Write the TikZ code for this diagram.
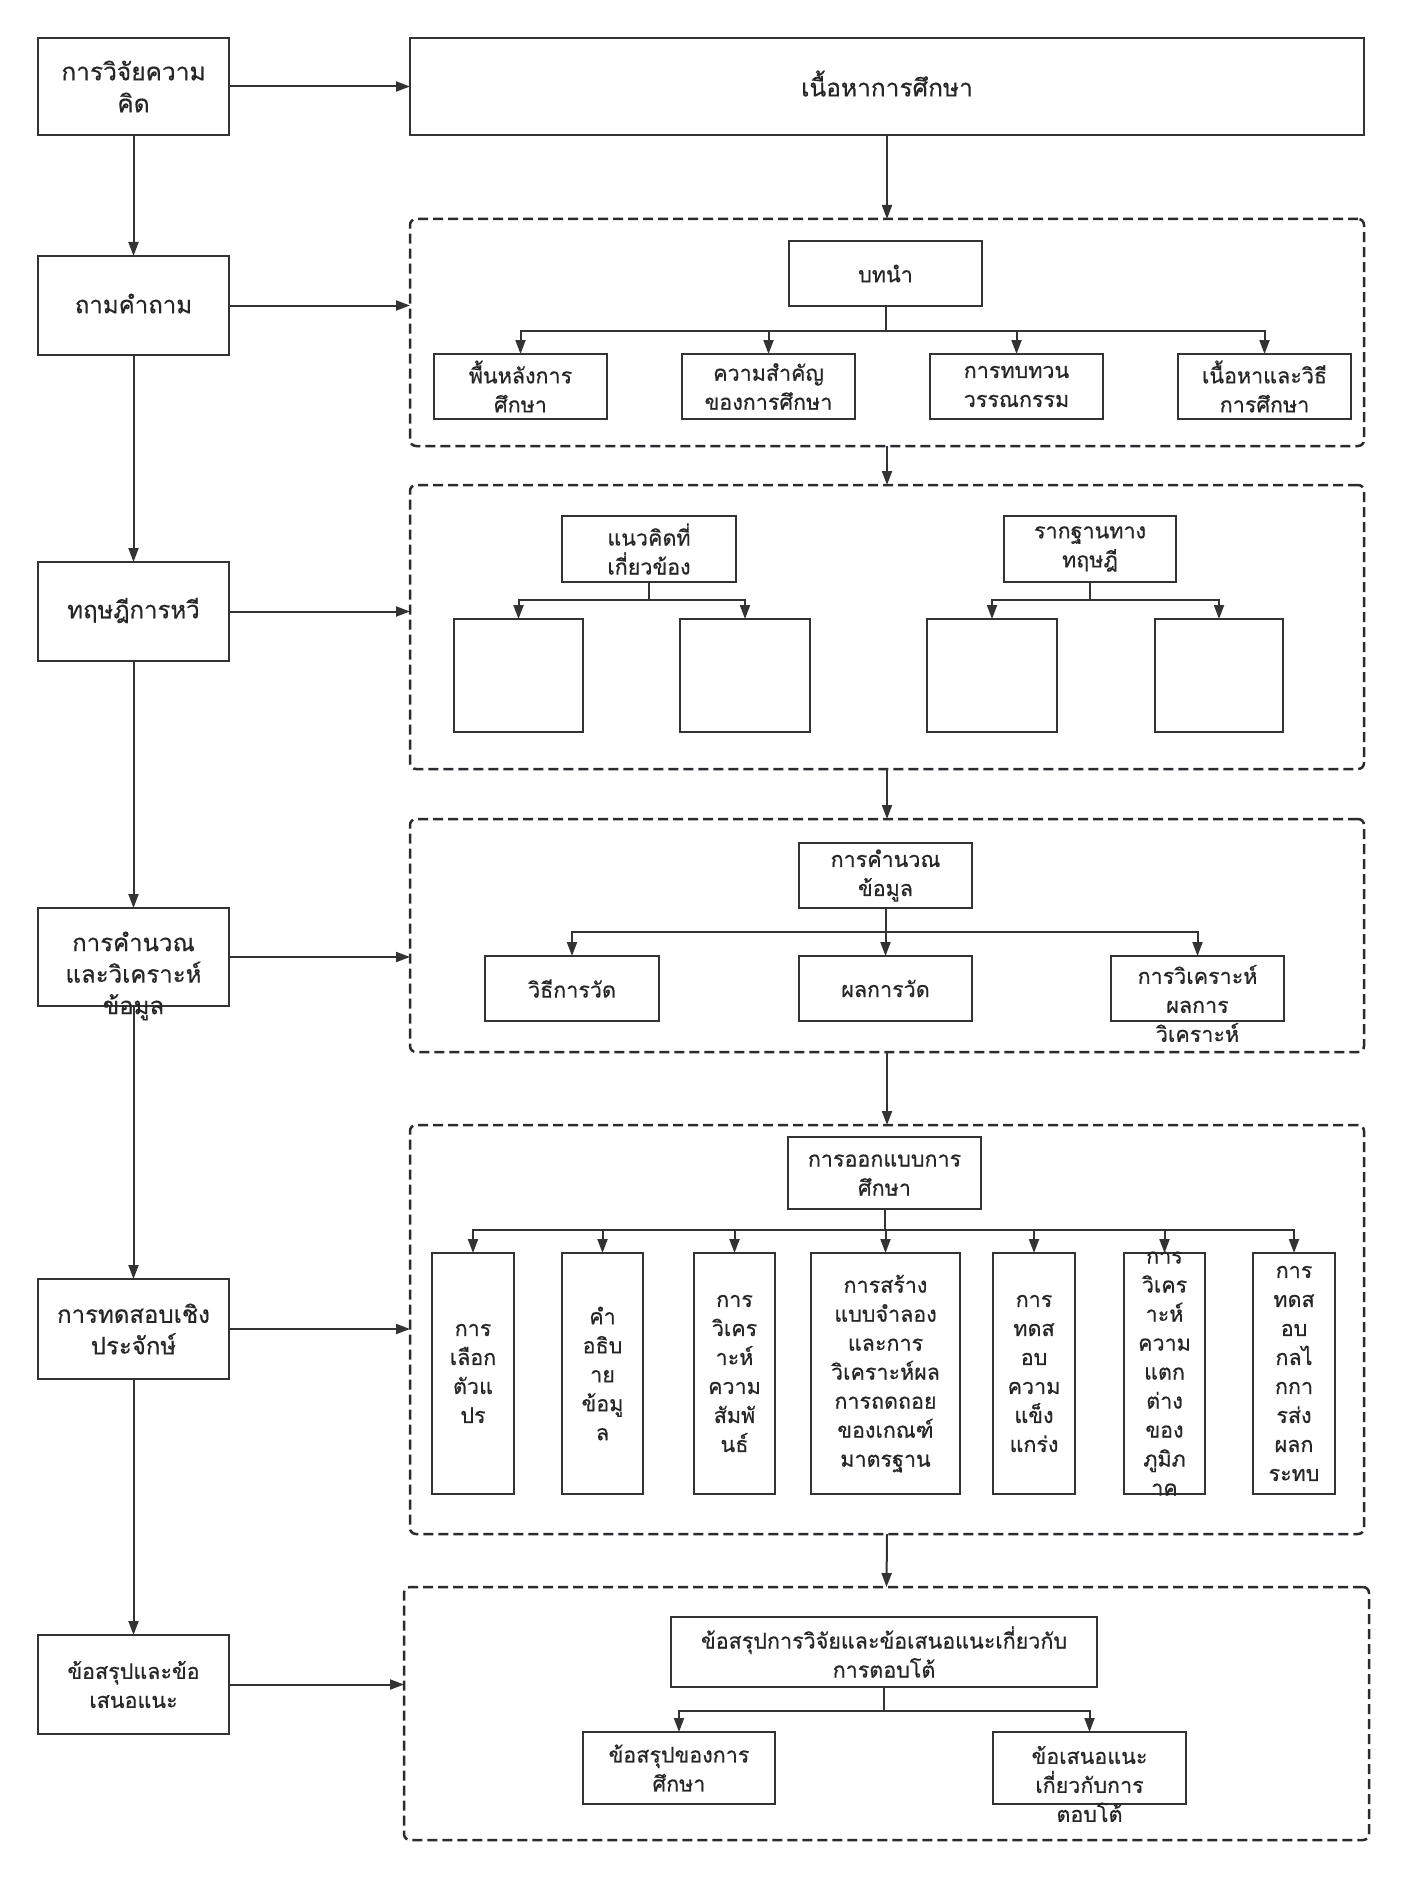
\documentclass[tikz,border=0pt]{standalone}
\usepackage{fontspec}
\newfontfamily\thaifont[Script=Thai,FakeBold=0.5]{Loma}
\usetikzlibrary{arrows.meta}
\definecolor{lncol}{RGB}{51,51,51}
\definecolor{dshcol}{RGB}{40,44,48}
\definecolor{txtcol}{RGB}{38,38,38}
\newcommand\mkbox[8][txt]{%
  \node[box,minimum width={(#5-#3)*1pt},minimum height={(#6-#4)*1pt}] (#2) at ({(#3+#5)/2},{(#4+#6)/2}) {};
  \node[#1] (#2t) at ({(#3+#5)/2},{(#4+#6)/2+#7}) {#8};}
\newcommand\mkgrp[5]{%
  \node[grp,minimum width={(#4-#2)*1pt},minimum height={(#5-#3)*1pt}] (#1) at ({(#2+#4)/2},{(#3+#5)/2}) {};}
\begin{document}
\begin{tikzpicture}[x=1pt,y=-1pt,
  box/.style={draw=lncol,line width=2.3pt,inner sep=0pt,outer sep=0pt},
  txt/.style={font=\thaifont\fontsize{21.5}{29}\selectfont,align=center,text=txtcol,inner sep=0pt},
  ltxt/.style={txt,font=\thaifont\fontsize{24}{31.5}\selectfont},
  btxt/.style={txt,font=\thaifont\fontsize{24.5}{32}\selectfont},
  grp/.style={draw=dshcol,line width=2.5pt,dash pattern=on 10pt off 5pt,rounded corners=6pt,inner sep=0pt,outer sep=0pt},
  arr/.style={draw=lncol,line width=2pt,-{Triangle[length=14pt,width=10pt]}},
  conn/.style={draw=lncol,line width=2pt}]
\useasboundingbox (0,0) rectangle (1404,1878);
\fill[white] (0,0) rectangle (1404,1878);

% left column
\mkbox[btxt]{b1}{38}{38}{229}{135}{0}{การวิจัยความ\\คิด}
\mkbox[ltxt]{b2}{38}{256}{229}{355}{-2}{ถามคำถาม}
\mkbox[ltxt]{b3}{38}{562}{229}{661}{-1}{ทฤษฎีการหวี}
\mkbox[ltxt]{b4}{38}{908}{229}{1006}{19}{การคำนวณ\\และวิเคราะห์\\ข้อมูล}
\mkbox[ltxt]{b5}{38}{1279}{229}{1379}{0}{การทดสอบเชิง\\ประจักษ์}
\mkbox{b6}{38}{1635}{229}{1734}{0}{ข้อสรุปและข้อ\\เสนอแนะ}

% main column
\mkbox[btxt]{top}{410}{38}{1364}{135}{-3}{เนื้อหาการศึกษา}
\mkgrp{g1}{410}{219}{1364}{446}
\mkgrp{g2}{410}{485}{1364}{769}
\mkgrp{g3}{410}{819}{1364}{1052}
\mkgrp{g4}{410}{1125}{1364}{1534}
\mkgrp{g5}{404}{1587}{1369}{1840}

% group 1
\mkbox{intro}{789}{241}{982}{306}{0}{บทนำ}
\mkbox{s1a}{434}{354}{607}{419}{0}{พื้นหลังการ\\ศึกษา}
\mkbox{s1b}{682}{354}{855}{419}{0}{ความสำคัญ\\ของการศึกษา}
\mkbox{s1c}{930}{354}{1103}{419}{0}{การทบทวน\\วรรณกรรม}
\mkbox{s1d}{1178}{354}{1351}{419}{0}{เนื้อหาและวิธี\\การศึกษา}

% group 2
\mkbox{h2a}{562}{516}{736}{582}{0}{แนวคิดที่\\เกี่ยวข้อง}
\mkbox{h2b}{1004}{516}{1176}{582}{0}{รากฐานทาง\\ทฤษฎี}
\mkbox{e1}{454}{619}{583}{732}{0}{}
\mkbox{e2}{680}{619}{810}{732}{0}{}
\mkbox{e3}{927}{619}{1057}{732}{0}{}
\mkbox{e4}{1155}{619}{1283}{732}{0}{}

% group 3
\mkbox{calc}{799}{843}{972}{908}{0}{การคำนวณ\\ข้อมูล}
\mkbox{s3a}{485}{956}{659}{1021}{0}{วิธีการวัด}
\mkbox{s3b}{799}{956}{972}{1021}{0}{ผลการวัด}
\mkbox{s3c}{1111}{956}{1284}{1021}{15}{การวิเคราะห์\\ผลการ\\วิเคราะห์}

% group 4
\mkbox{dsg}{788}{1137}{981}{1209}{2}{การออกแบบการ\\ศึกษา}
\mkbox{c1}{432}{1253}{514}{1494}{0}{การ\\เลือก\\ตัวแ\\ปร}
\mkbox{c2}{562}{1253}{643}{1494}{0}{คำ\\อธิบ\\าย\\ข้อมู\\ล}
\mkbox{c3}{694}{1253}{775}{1494}{0}{การ\\วิเคร\\าะห์\\ความ\\สัมพั\\นธ์}
\mkbox{c4}{811}{1253}{960}{1494}{0}{การสร้าง\\แบบจำลอง\\และการ\\วิเคราะห์ผล\\การถดถอย\\ของเกณฑ์\\มาตรฐาน}
\mkbox{c5}{993}{1253}{1075}{1494}{0}{การ\\ทดส\\อบ\\ความ\\แข็ง\\แกร่ง}
\mkbox{c6}{1124}{1253}{1205}{1494}{0}{การ\\วิเคร\\าะห์\\ความ\\แตก\\ต่าง\\ของ\\ภูมิภ\\าค}
\mkbox{c7}{1253}{1253}{1335}{1494}{0}{การ\\ทดส\\อบ\\กลไ\\กกา\\รส่ง\\ผลก\\ระทบ}

% group 5
\mkbox{concl}{671}{1617}{1097}{1687}{0}{ข้อสรุปการวิจัยและข้อเสนอแนะเกี่ยวกับ\\การตอบโต้}
\mkbox{s5a}{583}{1732}{775}{1804}{0}{ข้อสรุปของการ\\ศึกษา}
\mkbox{s5b}{993}{1732}{1186}{1804}{16}{ข้อเสนอแนะ\\เกี่ยวกับการ\\ตอบโต้}

% left column arrows
\draw[arr] (b1) -- (b2);
\draw[arr] (b2) -- (b3);
\draw[arr] (b3) -- (b4);
\draw[arr] (b4) -- (b5);
\draw[arr] (b5) -- (b6);
\draw[arr] (b1.east) -- (b1.east -| top.west);
\draw[arr] (b2.east) -- (b2.east -| g1.west);
\draw[arr] (b3.east) -- (b3.east -| g2.west);
\draw[arr] (b4.east) -- (b4.east -| g3.west);
\draw[arr] (b5.east) -- (b5.east -| g4.west);
\draw[arr] (b6.east) -- (b6.east -| g5.west);

% main column arrows
\draw[arr] (top.south) -- (g1.north);
\draw[arr] (g1.south) -- (g2.north);
\draw[arr] (g2.south) -- (g3.north);
\draw[arr] (g3.south) -- (g4.north);
\draw[arr] (g4.south) -- (g5.north);

% branches group 1
\coordinate (j1) at (885.5,331);
\draw[conn] (intro.south) -- (j1);
\foreach \t in {s1a,s1b,s1c,s1d} \draw[arr] (j1) -| (\t.north);

% branches group 2
\coordinate (j2a) at (649,600);
\coordinate (j2b) at (1090,600);
\draw[conn] (h2a.south) -- (j2a);
\draw[conn] (h2b.south) -- (j2b);
\draw[arr] (j2a) -| (e1.north);
\draw[arr] (j2a) -| (e2.north);
\draw[arr] (j2b) -| (e3.north);
\draw[arr] (j2b) -| (e4.north);

% branches group 3
\coordinate (j3) at (885.5,932);
\draw[conn] (calc.south) -- (j3);
\foreach \t in {s3a,s3b,s3c} \draw[arr] (j3) -| (\t.north);

% branches group 4
\coordinate (j4) at (884.5,1230);
\draw[conn] (dsg.south) -- (j4);
\foreach \t in {c1,c2,c3,c4,c5,c6,c7} \draw[arr] (j4) -| (\t.north);

% branches group 5
\coordinate (j5) at (884,1711);
\draw[conn] (concl.south) -- (j5);
\draw[arr] (j5) -| (s5a.north);
\draw[arr] (j5) -| (s5b.north);
\end{tikzpicture}
\end{document}
